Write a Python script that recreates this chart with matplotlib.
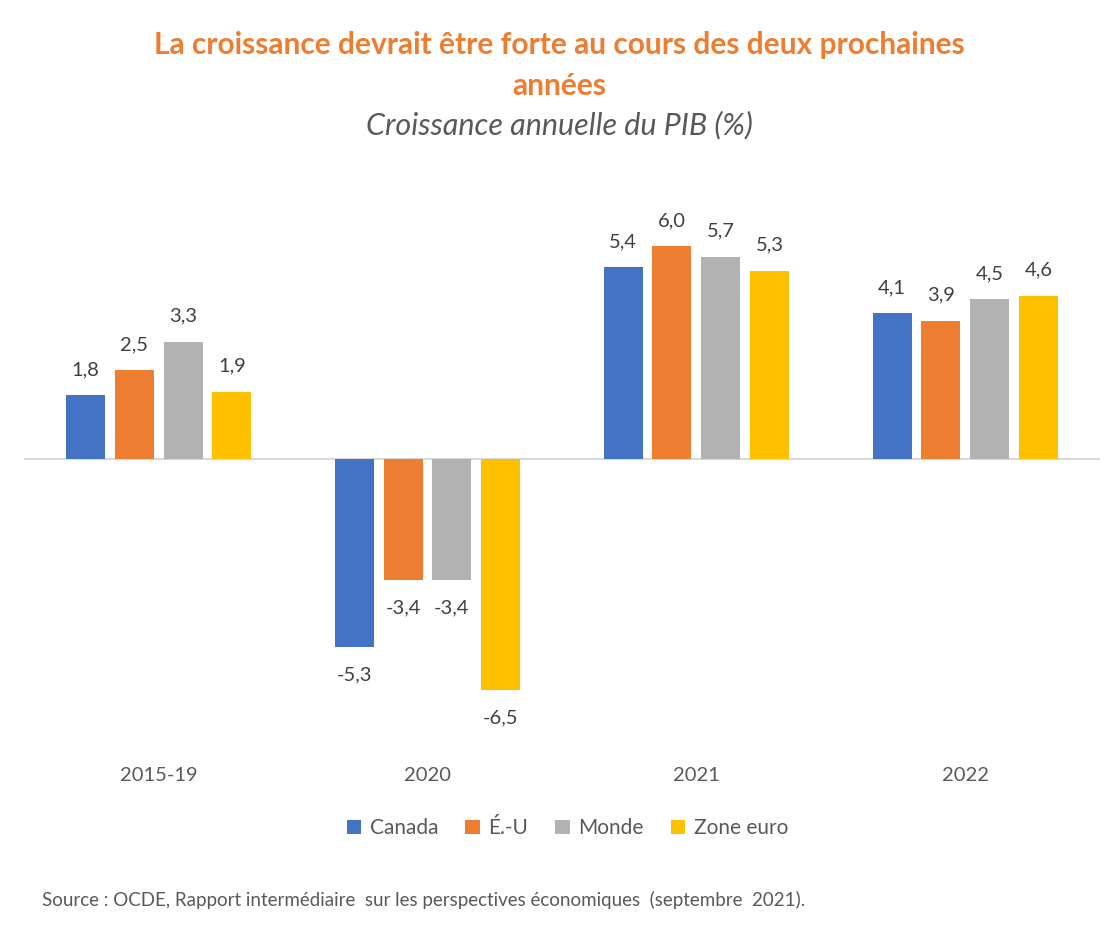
import matplotlib.pyplot as plt
import numpy as np

plt.rcParams['font.family'] = ['Lato', 'DejaVu Sans']

categories = ['2015-19', '2020', '2021', '2022']
series = ['Canada', 'É.-U', 'Monde', 'Zone euro']
canada = [1.8, -5.3, 5.4, 4.1]
eu = [2.5, -3.4, 6.0, 3.9]
monde = [3.3, -3.4, 5.7, 4.5]
zone_euro = [1.9, -6.5, 5.3, 4.6]
colors = ['#4472C4', '#ED7D31', '#B2B2B2', '#FFC000']

fig = plt.figure(figsize=(11.08, 9.44), dpi=100)
ax = fig.add_axes([0.0217, 0.2129, 0.971, 0.6017])

x = np.arange(len(categories))
width = 0.145
pitch = 0.182
for i, (name, vals) in enumerate(zip(series, [canada, eu, monde, zone_euro])):
    pos = x + (i - 1.5) * pitch
    ax.bar(pos, vals, width, color=colors[i], label=name, zorder=2)
    for xp, v in zip(pos, vals):
        off = 0.72 if v >= 0 else -0.78
        ax.text(xp, v + off, f'{v:.1f}'.replace('.', ','), ha='center', va='center',
                fontsize=14.5, color='#404040')

ax.axhline(0, color='#D9D9D9', lw=1.5, zorder=1)
ax.set_xlim(-0.5, 3.5)
ax.set_ylim(-8, 8)
ax.set_yticks([])
ax.set_xticks(x)
ax.set_xticklabels(categories, fontsize=14.5, color='#595959')
ax.tick_params(axis='x', length=0, pad=17)
for s in ax.spines.values():
    s.set_visible(False)

fig.text(0.505, 0.952, 'La croissance devrait être forte au cours des deux prochaines',
         ha='center', va='center', fontsize=21.5, fontweight='bold', color='#ED7D31')
fig.text(0.505, 0.909, 'années', ha='center', va='center', fontsize=21.5,
         fontweight='bold', color='#ED7D31')
fig.text(0.505, 0.867, 'Croissance annuelle du PIB (%)', ha='center', va='center',
         fontsize=22, style='italic', color='#595959')

ax.legend(loc='center', bbox_to_anchor=(0.505, -0.15), ncol=4, frameon=False,
          fontsize=15, handlelength=0.7, handleheight=0.7, handletextpad=0.4,
          columnspacing=1.3, labelcolor='#595959')

fig.text(0.038, 0.047, 'Source : OCDE, Rapport intermédiaire  sur les perspectives économiques  (septembre  2021).',
         ha='left', va='center', fontsize=13.5, color='#595959')

fig.savefig('out.png', dpi=100)
